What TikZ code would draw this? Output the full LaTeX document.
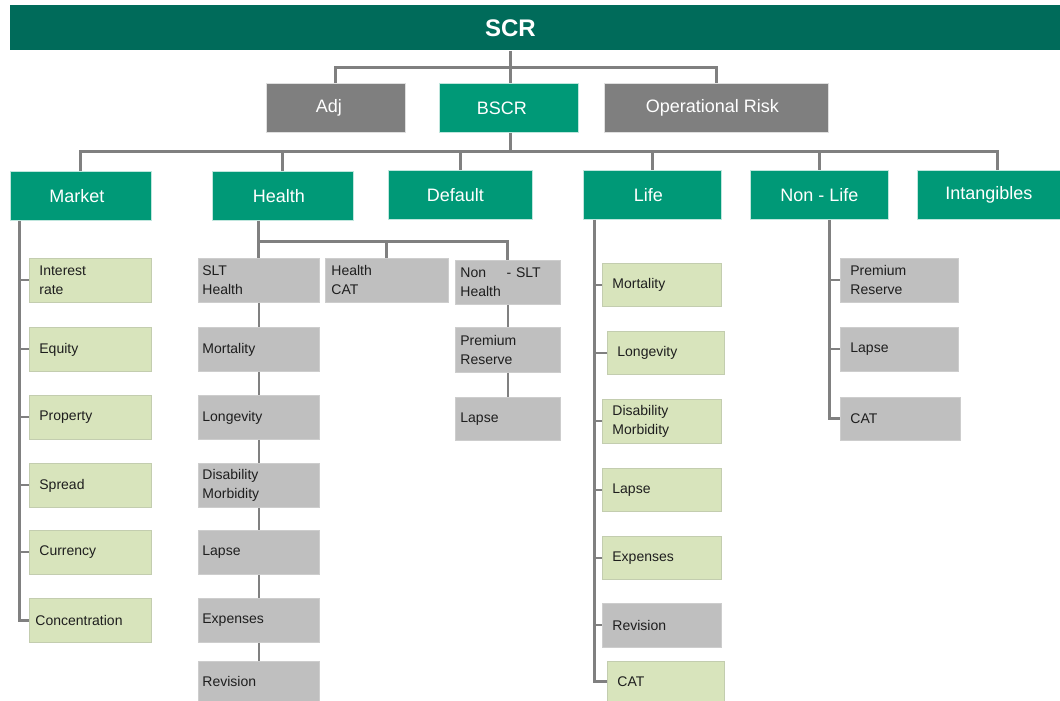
\documentclass[tikz,border=0pt]{standalone}
\usepackage{fontspec}
\setmainfont{Liberation Sans}
\begin{document}
\begin{tikzpicture}[x=0.5pt,y=-0.5pt,line join=miter,
  conn/.style={draw=linegray,line width=1.5pt},
  link/.style={draw=linegray,line width=1.2pt},
  tick/.style={draw=linegray,line width=1pt},
  mid/.style={rectangle,fill=midgreen,draw=white!75!midgreen,line width=0.4pt,text=white,
    font=\fontsize{9}{11}\selectfont,anchor=north west,minimum height=24.5pt,inner sep=0pt},
  leaf/.style={rectangle,anchor=north west,align=left,inner ysep=0pt,inner xsep=5pt,
    minimum height=22pt,line width=0.4pt,text=txt,font=\fontsize{7}{9.5}\selectfont},
  sub/.style={leaf,fill=lgreen,draw=lgreenedge},
  grey/.style={leaf,fill=lgray,draw=lgrayedge}]
  \definecolor{darkteal}{RGB}{0,107,90}
  \definecolor{midgreen}{RGB}{0,153,119}
  \definecolor{dgray}{RGB}{127,127,127}
  \definecolor{lgray}{RGB}{191,191,191}
  \definecolor{lgrayedge}{RGB}{205,205,205}
  \definecolor{lgreen}{RGB}{216,228,188}
  \definecolor{lgreenedge}{RGB}{195,205,175}
  \definecolor{linegray}{RGB}{128,128,128}
  \definecolor{txt}{RGB}{30,30,30}

  \useasboundingbox (0,0) rectangle (1060,701);

  % ---- top bar and first level ----
  \node[rectangle,fill=darkteal,anchor=north west,minimum width=525pt,minimum height=22.5pt,
    inner sep=0pt,text=white,font=\fontsize{12}{14}\selectfont\bfseries] (scr) at (10,5) {SCR\hspace*{25pt}};
  \node[mid,fill=dgray,draw=white!75!dgray,minimum width=69.5pt] (adj) at (266,83) {Adj\hspace*{7pt}};
  \node[mid,minimum width=69.5pt] (bscr) at (439,83) {BSCR\hspace*{7pt}};
  \node[mid,fill=dgray,draw=white!75!dgray,minimum width=112pt] (oprisk) at (604,83) {Operational Risk\hspace*{4pt}};

  % ---- risk modules ----
  \node[mid,minimum width=70.5pt] (market) at (10,171) {Market\hspace*{4pt}};
  \node[mid,minimum width=70.5pt] (health) at (212,171) {Health\hspace*{4pt}};
  \node[mid,minimum width=72pt] (default) at (388,170) {Default\hspace*{5pt}};
  \node[mid,minimum width=69pt] (life) at (583,170) {Life\hspace*{4pt}};
  \node[mid,minimum width=69pt] (nonlife) at (750,170) {Non - Life};
  \node[mid,minimum width=71.5pt] (intang) at (917,170) {Intangibles};

  % ---- market sub-modules ----
  \node[sub,text width=51pt] (mk1) at (29,258) {Interest\\rate};
  \node[sub,text width=51pt] (mk2) at (29,327) {Equity};
  \node[sub,text width=51pt] (mk3) at (29,395) {Property};
  \node[sub,text width=51pt] (mk4) at (29,463) {Spread};
  \node[sub,text width=51pt] (mk5) at (29,530) {Currency};
  \node[sub,inner xsep=3pt,text width=55pt] (mk6) at (29,598) {Concentration};

  % ---- health sub-modules ----
  \node[grey,inner xsep=2pt,text width=56.5pt] (slt) at (198,258) {SLT\\Health};
  \node[grey,inner xsep=3pt,text width=55.5pt] (hcat) at (325,258) {Health\\CAT};
  \node[grey,inner xsep=2.5pt,text width=47.5pt] (nslt) at (455,260) {Non\hspace{8pt} - SLT\\Health};
  \node[grey,inner xsep=2pt,text width=56.5pt] (hmort) at (198,327) {Mortality};
  \node[grey,inner xsep=2pt,text width=56.5pt] (hlong) at (198,395) {Longevity};
  \node[grey,inner xsep=2pt,text width=56.5pt] (hdis) at (198,463) {Disability\\Morbidity};
  \node[grey,inner xsep=2pt,text width=56.5pt] (hlapse) at (198,530) {Lapse};
  \node[grey,inner xsep=2pt,text width=56.5pt] (hexp) at (198,598) {Expenses};
  \node[grey,inner xsep=2pt,text width=56.5pt,minimum height=20pt] (hrev) at (198,661) {Revision};
  \node[grey,inner xsep=2.5pt,text width=47.5pt,minimum height=22.5pt] (nsprem) at (455,327) {Premium\\Reserve};
  \node[grey,inner xsep=2.5pt,text width=47.5pt,minimum height=21.5pt] (nslapse) at (455,397) {Lapse};

  % ---- life sub-modules ----
  \node[sub,text width=49.5pt,minimum height=21.5pt] (lf1) at (602,263) {Mortality};
  \node[sub,text width=48.5pt,minimum height=21.5pt] (lf2) at (607,331) {Longevity};
  \node[sub,text width=49.5pt] (lf3) at (602,399) {Disability\\Morbidity};
  \node[sub,text width=49.5pt,minimum height=21.5pt] (lf4) at (602,468) {Lapse};
  \node[sub,text width=49.5pt,minimum height=21.5pt] (lf5) at (602,536) {Expenses};
  \node[grey,text width=49.5pt] (lf6) at (602,603) {Revision};
  \node[sub,text width=48.5pt,minimum height=20pt] (lf7) at (607,661) {CAT};

  % ---- non-life sub-modules ----
  \node[grey,text width=49pt] (nl1) at (840,258) {Premium\\Reserve};
  \node[grey,text width=49pt] (nl2) at (840,327) {Lapse};
  \node[grey,text width=50pt,minimum height=21.5pt] (nl3) at (840,397) {CAT};

  % ---- connectors ----
  \coordinate (bus1) at (510,68);
  \coordinate (bus2) at (510,152);
  \coordinate (hbus) at (0,241);
  \coordinate (intjoin) at (997,0);
  \coordinate (mktrunk) at (19,0);
  \coordinate (lftrunk) at (594,0);
  \coordinate (nltrunk) at (829,0);

  \draw[conn] (scr.south -| bus1) -- (bscr.north -| bus1);
  \draw[conn] (adj.north) |- (bus1) -| (oprisk.north);
  \draw[conn] (bscr.south -| bus2) -- (bus2);
  \draw[conn] (market.north) |- (bus2) -| (intang.north -| intjoin);
  \foreach \n in {health,default,life,nonlife}
    \draw[conn] (\n.north |- bus2) -- (\n.north);

  % health tree
  \draw[conn] (health.south -| slt.north) -- (slt.north);
  \draw[conn] (slt.north |- hbus) -| (hcat.north);
  \draw[conn] (hcat.north |- hbus) -| (nslt.north);
  \foreach \a/\b in {slt/hmort,hmort/hlong,hlong/hdis,hdis/hlapse,hlapse/hexp,hexp/hrev,
                     nslt/nsprem,nsprem/nslapse}
    \draw[link] (\a.south) -- (\b.north);

  % trunks with ticks
  \draw[conn] (market.south -| mktrunk) |- (mk6.west);
  \foreach \n in {mk1,mk2,mk3,mk4,mk5}
    \draw[tick] (mktrunk |- \n.west) -- (\n.west);
  \draw[conn] (life.south -| lftrunk) |- (lf7.west);
  \foreach \n in {lf1,lf2,lf3,lf4,lf5,lf6}
    \draw[tick] (lftrunk |- \n.west) -- (\n.west);
  \draw[conn] (nonlife.south -| nltrunk) |- (nl3.west);
  \foreach \n in {nl1,nl2}
    \draw[tick] (nltrunk |- \n.west) -- (\n.west);
\end{tikzpicture}
\end{document}
